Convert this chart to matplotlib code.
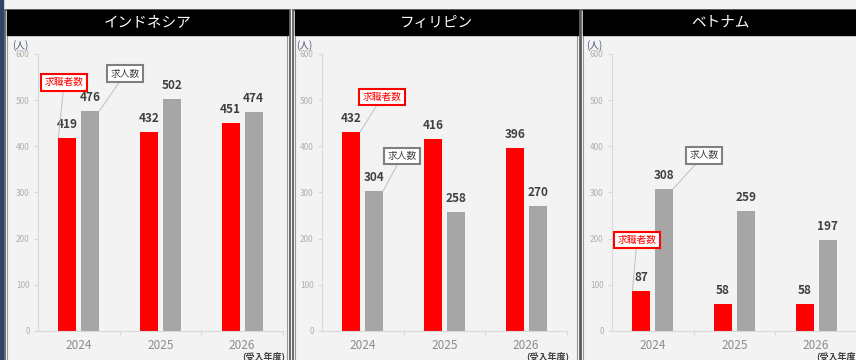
import matplotlib
matplotlib.use("Agg")
import matplotlib.pyplot as plt
from matplotlib.patches import Rectangle

plt.rcParams['font.family'] = ['Noto Sans CJK JP', 'DejaVu Sans']

years = ['2024', '2025', '2026']
countries = ['インドネシア', 'フィリピン', 'ベトナム']
seekers = {
    'インドネシア': [419, 432, 451],
    'フィリピン': [432, 416, 396],
    'ベトナム': [87, 58, 58],
}
jobs = {
    'インドネシア': [476, 502, 474],
    'フィリピン': [304, 258, 270],
    'ベトナム': [308, 259, 197],
}
yticks = [0, 100, 200, 300, 400, 500, 600]
seeker_label = '求職者数'
job_label = '求人数'
unit_label = '(人)'
xaxis_label = '(受入年度)'

W, H = 856, 360
fig = plt.figure(figsize=(W / 100, H / 100), dpi=100)
fig.patch.set_facecolor('#f3f3f3')

# background / frame layer in pixel coords
bg = fig.add_axes([0, 0, 1, 1], zorder=0)
bg.set_xlim(0, W)
bg.set_ylim(H, 0)
bg.axis('off')
bg.add_patch(Rectangle((0, 0), 3, H, color='#2f4468'))

panels = [(5, 290), (293, 580), (581, 870)]
axes_left = [38, 322, 612]
for (x0, x1), title in zip(panels, countries):
    bg.add_patch(Rectangle((x0, 10), x1 - x0, H, facecolor='#f3f3f3',
                           edgecolor='#555555', lw=1.2))
    bg.add_patch(Rectangle((x0 + 2.5, 12.5), x1 - x0 - 5, H, facecolor='none',
                           edgecolor='#999999', lw=0.8))
    bg.add_patch(Rectangle((x0 + 2, 10), x1 - x0 - 4, 25, color='black'))
    xc = (x0 + x1) / 2 if x1 <= W else (x0 + W) / 2 + 2
    bg.text(xc, 22.5, title, color='white', ha='center', va='center', fontsize=10.5)

# callout placements: (box x, box y, target x, series index)
callouts = {
    'インドネシア': [(-0.18, 539, -0.25, 0), (0.565, 557, 0.25, 1)],
    'フィリピン': [(0.235, 507, -0.03, 0), (0.48, 379, 0.25, 1)],
    'ベトナム': [(-0.194, 197, -0.25, 0), (0.626, 381, 0.25, 1)],
}

bw = 0.22
off = 0.14
for i, c in enumerate(countries):
    left = axes_left[i]
    ax = fig.add_axes([left / W, 29 / H, 245 / W, 277 / H], zorder=1)
    ax.patch.set_alpha(0)
    x = list(range(len(years)))
    b1 = ax.bar([v - off for v in x], seekers[c], width=bw, color='#ff0000')
    b2 = ax.bar([v + off for v in x], jobs[c], width=bw, color='#a6a6a6')
    for bars, vals in ((b1, seekers[c]), (b2, jobs[c])):
        for rect, v in zip(bars, vals):
            ax.annotate(str(v), (rect.get_x() + rect.get_width() / 2, v),
                        xytext=(0, 5), textcoords='offset points',
                        ha='center', va='bottom', fontsize=8.5,
                        fontweight='bold', color='#404040')
    ax.set_xlim(-0.5, 2.5)
    ax.set_ylim(0, 600)
    ax.set_yticks(yticks)
    ax.set_yticklabels([str(t) for t in yticks])
    ax.set_xticks(x)
    ax.set_xticklabels(years)
    ax.set_xticks([0.5, 1.5, 2.5], minor=True)
    for s in ('top', 'right'):
        ax.spines[s].set_visible(False)
    for s in ('left', 'bottom'):
        ax.spines[s].set_color('#d9d9d9')
        ax.spines[s].set_linewidth(0.8)
    ax.tick_params(axis='y', colors='#d9d9d9', labelcolor='#b0b0b0',
                   labelsize=6, length=3, width=0.8, pad=3)
    ax.tick_params(axis='x', which='major', length=0, labelsize=8.5,
                   labelcolor='#8c8c8c', pad=6)
    ax.tick_params(axis='x', which='minor', length=3, color='#d9d9d9', width=0.8)

    for bx, by, tx, kind in callouts[c]:
        if kind == 0:
            tv = seekers[c][0]
            txt, tc, ec = seeker_label, '#ff0000', '#ff0000'
        else:
            tv = jobs[c][0]
            txt, tc, ec = job_label, '#404040', '#808080'
        ax.annotate(txt, xy=(tx, tv), xytext=(bx, by),
                    ha='center', va='center', fontsize=7, color=tc,
                    bbox=dict(boxstyle='square,pad=0.35', fc='white',
                              ec=ec, lw=1.5),
                    arrowprops=dict(arrowstyle='-', color='#bfbfbf', lw=0.7,
                                    shrinkA=0, shrinkB=0))

    bg.text(left - 18, 46, unit_label, color='#4a5a80', fontsize=7,
            ha='center', va='center')
    bg.text(left + 226, 356.5, xaxis_label, color='#404040', fontsize=6.5,
            fontweight='bold', ha='center', va='center')

fig.savefig('out.png', dpi=100, facecolor=fig.get_facecolor())
